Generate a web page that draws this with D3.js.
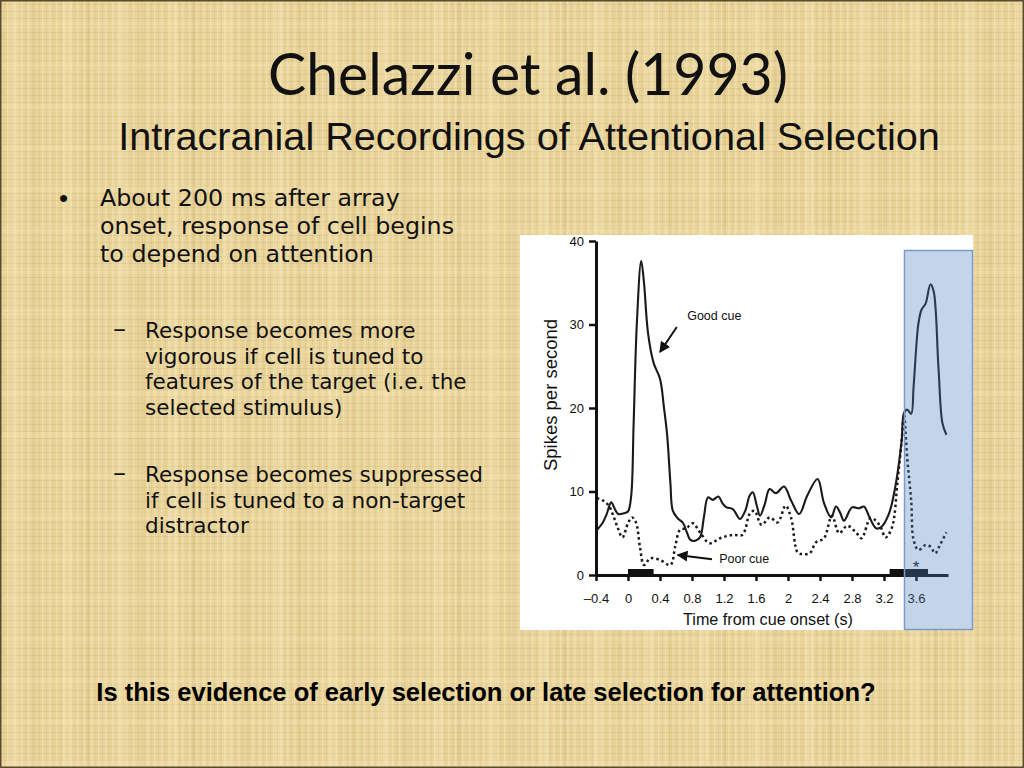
<!DOCTYPE html>
<html>
<head>
<meta charset="utf-8">
<script src="https://cdn.jsdelivr.net/npm/d3@7"></script>
<style>
  html, body { margin: 0; padding: 0; overflow: hidden; background: #e8d398; }
  text { font-variant-ligatures: none; }
</style>
</head>
<body>
<div id="slide"></div>
<script>
// ---- data ----
const goodCueTime = [-0.39, -0.32, -0.27, -0.21, -0.16, -0.12, -0.05, 0.0, 0.04, 0.07, 0.11, 0.165, 0.2, 0.25, 0.32, 0.40, 0.45, 0.49, 0.53, 0.56, 0.62, 0.69, 0.74, 0.78, 0.84, 0.9, 0.95, 1.0, 1.06, 1.13, 1.18, 1.23, 1.31, 1.4, 1.47, 1.52, 1.56, 1.61, 1.65, 1.71, 1.77, 1.85, 1.95, 2.04, 2.14, 2.24, 2.37, 2.45, 2.54, 2.6, 2.65, 2.7, 2.8, 2.89, 2.95, 3.01, 3.1, 3.16, 3.26, 3.34, 3.42, 3.45, 3.49, 3.54, 3.57, 3.63, 3.67, 3.72, 3.78, 3.82, 3.88, 3.93, 3.98];
const goodCueRate = [5.4, 6.2, 7.2, 8.7, 7.8, 7.3, 7.4, 7.6, 9.5, 18, 30, 37.6, 35, 29, 25.4, 23.5, 20, 16.7, 11, 7.7, 6.8, 6.2, 5.0, 4.2, 4.1, 4.5, 7.0, 9.3, 9.0, 9.4, 8.6, 8.1, 7.9, 6.7, 7.8, 9.5, 9.9, 8.3, 7.1, 8.5, 10.3, 9.8, 10.6, 8.9, 7.3, 9.5, 11.5, 8.6, 6.9, 8.2, 7.5, 6.5, 8.1, 8.0, 8.2, 7.1, 5.6, 5.7, 7.3, 10.5, 16, 19.4, 19.8, 19.3, 22.6, 30.1, 31.8, 32.5, 34.8, 34.0, 25, 18.2, 16.8];

const poorCueTime = [-0.39, -0.31, -0.24, -0.18, -0.13, -0.07, 0.0, 0.05, 0.1, 0.15, 0.2, 0.28, 0.4, 0.53, 0.59, 0.65, 0.73, 0.81, 0.9, 1.02, 1.15, 1.31, 1.43, 1.47, 1.52, 1.58, 1.67, 1.77, 1.87, 1.97, 2.04, 2.12, 2.18, 2.27, 2.35, 2.45, 2.55, 2.64, 2.74, 2.85, 2.92, 3.03, 3.1, 3.16, 3.22, 3.3, 3.37, 3.42, 3.45, 3.49, 3.54, 3.57, 3.63, 3.72, 3.78, 3.84, 3.9, 3.98];
const poorCueRate = [9.2, 8.9, 8.3, 7.0, 5.7, 4.5, 6.2, 6.9, 6.3, 3.3, 1.2, 2.0, 1.8, 1.2, 3.4, 5.4, 5.6, 6.2, 5.1, 3.8, 4.4, 4.8, 4.8, 5.6, 7.3, 7.7, 6.0, 6.9, 6.3, 8.3, 6.8, 2.7, 2.5, 2.6, 3.9, 4.4, 7.1, 5.0, 5.9, 5.1, 4.4, 6.8, 6.5, 5.7, 4.5, 5.7, 11.3, 16, 19.2, 14, 8.9, 4.2, 3.0, 3.6, 3.4, 2.6, 3.6, 5.1];

const xTickValues = [-0.4, 0, 0.4, 0.8, 1.2, 1.6, 2, 2.4, 2.8, 3.2, 3.6];
const xTickLabels = ["\u20130.4", "0", "0.4", "0.8", "1.2", "1.6", "2", "2.4", "2.8", "3.2", "3.6"];
const yTickValues = [0, 10, 20, 30, 40];
const yTickLabels = ["0", "10", "20", "30", "40"];

// stimulus markers on the time axis (cue, then array)
const stimStart = [0, 3.27];
const stimEnd = [0.32, 3.75];

const titleText = "Chelazzi et al. (1993)";
const subtitleText = "Intracranial Recordings of Attentional Selection";
const bulletLines = ["About 200 ms after array", "onset, response of cell begins", "to depend on attention"];
const subBullet1 = ["Response becomes more", "vigorous if cell is tuned to", "features of the target (i.e. the", "selected stimulus)"];
const subBullet2 = ["Response becomes suppressed", "if cell is tuned to a non-target", "distractor"];
const questionText = "Is this evidence of early selection or late selection for attention?";

const W = 1024, H = 768;
const calibri = "Lato, 'Open Sans', sans-serif";
const bodyFont = "'DejaVu Sans', Lato, sans-serif";
const arial = "'Liberation Sans', Arial, sans-serif";

const svg = d3.select("#slide").append("svg")
  .attr("width", W)
  .attr("height", H)
  .attr("viewBox", `0 0 ${W} ${H}`);

// ---- parchment background ----
const defs = svg.append("defs");
const weave = defs.append("pattern")
  .attr("id", "weave")
  .attr("width", 7).attr("height", 7)
  .attr("patternUnits", "userSpaceOnUse");
weave.append("rect").attr("width", 7).attr("height", 7).attr("fill", "#e8d399");
weave.append("rect").attr("x", 0).attr("width", 1.5).attr("height", 7).attr("fill", "rgba(250,238,195,0.45)");
weave.append("rect").attr("y", 4).attr("width", 7).attr("height", 1).attr("fill", "rgba(175,145,80,0.16)");
weave.append("rect").attr("x", 4).attr("width", 1).attr("height", 7).attr("fill", "rgba(185,155,90,0.13)");

const blotch = defs.append("pattern")
  .attr("id", "blotch")
  .attr("width", 53).attr("height", 41)
  .attr("patternUnits", "userSpaceOnUse");
blotch.append("rect").attr("x", 10).attr("width", 9).attr("height", 41).attr("fill", "rgba(248,235,190,0.25)");
blotch.append("rect").attr("x", 33).attr("width", 4).attr("height", 41).attr("fill", "rgba(190,160,95,0.12)");
blotch.append("rect").attr("y", 22).attr("width", 53).attr("height", 6).attr("fill", "rgba(248,235,190,0.2)");

svg.append("rect").attr("width", W).attr("height", H).attr("fill", "url(#weave)");
svg.append("rect").attr("width", W).attr("height", H).attr("fill", "url(#blotch)");
svg.append("rect").attr("x", 0.75).attr("y", 0.75).attr("width", W - 1.5).attr("height", H - 1.5)
  .attr("fill", "none").attr("stroke", "#5a4a2e").attr("stroke-width", 1.5);

// size a font so the given text spans the target width
function fitSize(text, family, weight, target) {
  const t = svg.append("text").attr("font-family", family).attr("font-weight", weight)
    .attr("font-size", 100).text(text);
  const w = t.node().getComputedTextLength();
  t.remove();
  return 100 * target / w;
}

// one text element per paragraph, one tspan per line
function paragraph(lines, x0, y0, step, size) {
  svg.append("text")
    .attr("font-family", bodyFont).attr("font-size", size).attr("fill", "#111")
    .selectAll("tspan").data(lines).join("tspan")
    .attr("x", x0).attr("y", (d, i) => y0 + i * step)
    .text(d => d);
}

// ---- titles ----
svg.append("text")
  .attr("x", 528).attr("y", 95)
  .attr("text-anchor", "middle")
  .attr("font-family", calibri)
  .attr("font-size", fitSize(titleText, calibri, 400, 520))
  .attr("fill", "#111")
  .text(titleText);

svg.append("text")
  .attr("x", 529).attr("y", 150)
  .attr("text-anchor", "middle")
  .attr("font-family", arial)
  .attr("font-size", fitSize(subtitleText, arial, 400, 822))
  .attr("fill", "#111")
  .text(subtitleText);

// ---- bullet text ----
// font size capped so each line's box stays inside its line step
const bStep = 27.8;
const bSize = Math.min(fitSize(bulletLines[1], bodyFont, 400, 373), bStep / 1.17);
svg.append("text").attr("x", 59).attr("y", 207).attr("font-family", arial)
  .attr("font-size", 26).attr("fill", "#111").text("\u2022");
paragraph(bulletLines, 100, 206, bStep, bSize);

const sStep = 25.7;
const sSize = Math.min(fitSize(subBullet2[0], bodyFont, 400, 338), sStep / 1.17);
[[subBullet1, 338], [subBullet2, 482]].forEach(([lines, y0]) => {
  svg.append("text").attr("x", 112).attr("y", y0).attr("font-family", calibri)
    .attr("font-size", 26).attr("fill", "#111").text("\u2013");
  paragraph(lines, 145, y0, sStep, sSize);
});

svg.append("text")
  .attr("x", 486).attr("y", 701)
  .attr("text-anchor", "middle")
  .attr("font-family", arial).attr("font-weight", "bold")
  .attr("font-size", fitSize(questionText, arial, "bold", 780))
  .attr("fill", "#000")
  .text(questionText);

// ---- chart panel ----
svg.append("rect")
  .attr("x", 520).attr("y", 235).attr("width", 453).attr("height", 395)
  .attr("fill", "#fff");

const x = d3.scaleLinear().domain([-0.4, 4.0]).range([596, 948]);
const y = d3.scaleLinear().domain([0, 40]).range([575, 241]);

const chart = svg.append("g").attr("font-family", arial);

const line = d3.line()
  .x(d => x(d[0]))
  .y(d => y(d[1]))
  .curve(d3.curveCatmullRom.alpha(0.5));

chart.append("path")
  .datum(poorCueTime.map((t, i) => [t, poorCueRate[i]]))
  .attr("d", line)
  .attr("fill", "none")
  .attr("stroke", "#1a1a1a")
  .attr("stroke-width", 2.5)
  .attr("stroke-dasharray", "2.5,3")
  .attr("stroke-linecap", "butt");

chart.append("path")
  .datum(goodCueTime.map((t, i) => [t, goodCueRate[i]]))
  .attr("d", line)
  .attr("fill", "none")
  .attr("stroke", "#1a1a1a")
  .attr("stroke-width", 2.1)
  .attr("stroke-linejoin", "round");

// axes
const yAxis = chart.append("g")
  .attr("transform", `translate(${x(-0.4)},0)`)
  .call(d3.axisLeft(y).tickValues(yTickValues).tickFormat((d, i) => yTickLabels[i])
    .tickSize(7).tickSizeOuter(0).tickPadding(5));

const xAxis = chart.append("g")
  .attr("transform", `translate(0,${y(0)})`)
  .call(d3.axisBottom(x).tickValues(xTickValues).tickFormat((d, i) => xTickLabels[i])
    .tickSize(6).tickSizeOuter(0).tickPadding(13));

[yAxis, xAxis].forEach(a => {
  a.select(".domain").attr("stroke", "#111").attr("stroke-width", 3);
  a.selectAll(".tick line").attr("stroke", "#111").attr("stroke-width", 2.5);
  a.selectAll(".tick text").attr("fill", "#111").attr("font-size", 13).attr("font-family", arial);
});

// stimulus bars
chart.append("g").selectAll("rect").data(stimStart).join("rect")
  .attr("x", d => x(d))
  .attr("y", y(0) - 6)
  .attr("width", (d, i) => x(stimEnd[i]) - x(d))
  .attr("height", 6)
  .attr("fill", "#111");

chart.append("text")
  .attr("x", x(3.6)).attr("y", 573)
  .attr("text-anchor", "middle")
  .attr("font-size", 17).attr("fill", "#111")
  .text("*");

// axis titles
chart.append("text")
  .attr("transform", `translate(557,${(y(0) + y(40)) / 2 - 13}) rotate(-90)`)
  .attr("text-anchor", "middle")
  .attr("font-size", fitSize("Spikes per second", arial, 400, 152))
  .attr("fill", "#111")
  .text("Spikes per second");

chart.append("text")
  .attr("x", 768).attr("y", 625)
  .attr("text-anchor", "middle")
  .attr("font-size", fitSize("Time from cue onset (s)", arial, 400, 170))
  .attr("fill", "#111")
  .text("Time from cue onset (s)");

// annotations with arrows
defs.append("marker")
  .attr("id", "head")
  .attr("viewBox", "0 0 10 10")
  .attr("refX", 9).attr("refY", 5)
  .attr("markerWidth", 5.5).attr("markerHeight", 5.5)
  .attr("markerUnits", "strokeWidth")
  .attr("orient", "auto")
  .append("path").attr("d", "M0,0 L10,5 L0,10 Z").attr("fill", "#111");

chart.append("line")
  .attr("x1", x(0.61)).attr("y1", y(29.7))
  .attr("x2", x(0.40)).attr("y2", y(26.7))
  .attr("stroke", "#111").attr("stroke-width", 2)
  .attr("marker-end", "url(#head)");
chart.append("text")
  .attr("x", x(0.74)).attr("y", y(30.5))
  .attr("font-size", 12.5).attr("fill", "#111")
  .text("Good cue");

chart.append("line")
  .attr("x1", x(1.05)).attr("y1", y(1.9))
  .attr("x2", x(0.62)).attr("y2", y(2.4))
  .attr("stroke", "#111").attr("stroke-width", 2)
  .attr("marker-end", "url(#head)");
chart.append("text")
  .attr("x", x(1.14)).attr("y", y(1.45))
  .attr("font-size", 12.5).attr("fill", "#111")
  .text("Poor cue");

// highlight box over the array period
svg.append("rect")
  .attr("x", 904.5).attr("y", 250.5).attr("width", 68).attr("height", 379)
  .attr("fill", "rgba(79,129,189,0.33)")
  .attr("stroke", "#7b9bcb")
  .attr("stroke-width", 1.5);
</script>
</body>
</html>
